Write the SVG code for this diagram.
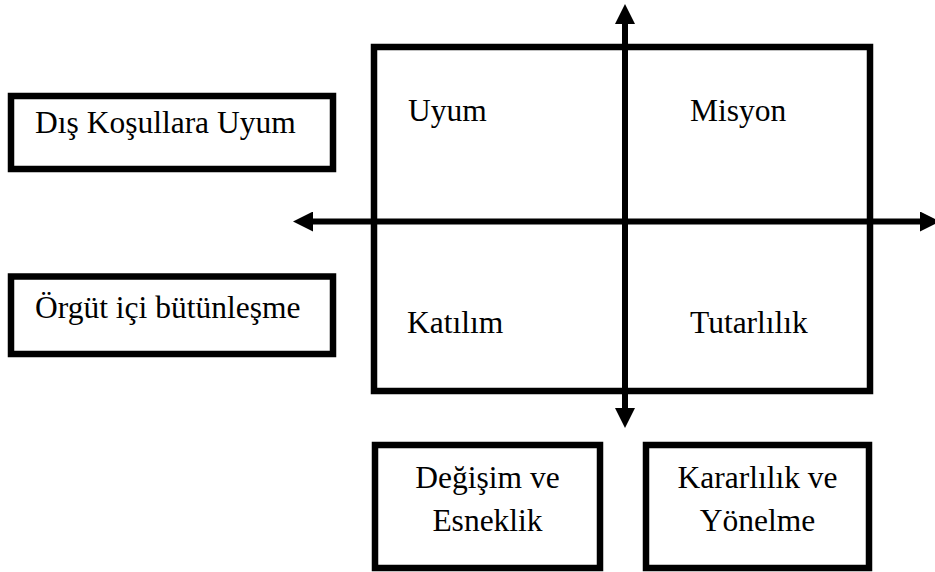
<svg xmlns="http://www.w3.org/2000/svg" width="935" height="572" viewBox="0 0 935 572">
<style>
.box{fill:none;stroke:#000;stroke-width:6.5}
.t{font-family:"Liberation Serif","Times New Roman",serif;font-size:31.5px;fill:#000}
.c{text-anchor:middle}
.ax{stroke:#000;stroke-width:6;fill:none}
</style>
<defs>
<marker id="ah" markerUnits="userSpaceOnUse" markerWidth="20" markerHeight="20" refX="0" refY="10" orient="auto-start-reverse" viewBox="0 0 20 20">
<path d="M0,0 L20,10 L0,20 z" fill="#000"/>
</marker>
</defs>
<rect width="935" height="572" fill="#fff"/>
<g id="quadrant">
<rect class="box" x="374" y="47" width="496" height="344"/>
<text class="t" x="408" y="121">Uyum</text>
<text class="t" x="690" y="121">Misyon</text>
<text class="t" x="407" y="333">Katılım</text>
<text class="t" x="690" y="333">Tutarlılık</text>
</g>
<g id="dis">
<rect class="box" x="11" y="96" width="322" height="73"/>
<text class="t" x="35" y="133">Dış Koşullara Uyum</text>
</g>
<g id="orgut">
<rect class="box" x="11" y="276.5" width="322" height="77.5"/>
<text class="t" x="35" y="318">Örgüt içi bütünleşme</text>
</g>
<g id="degisim">
<rect class="box" x="375" y="445" width="225" height="123"/>
<text class="t c" x="487.5" y="488">Değişim ve</text>
<text class="t c" x="487.5" y="531">Esneklik</text>
</g>
<g id="kararlilik">
<rect class="box" x="646" y="445" width="223" height="123"/>
<text class="t c" x="757.5" y="488">Kararlılık ve</text>
<text class="t c" x="757.5" y="531">Yönelme</text>
</g>
<g id="connectors">
<line class="ax" x1="313" y1="221.5" x2="920" y2="221.5" marker-start="url(#ah)" marker-end="url(#ah)"/>
<line class="ax" x1="625" y1="24" x2="625" y2="408" marker-start="url(#ah)" marker-end="url(#ah)"/>
</g>
</svg>
